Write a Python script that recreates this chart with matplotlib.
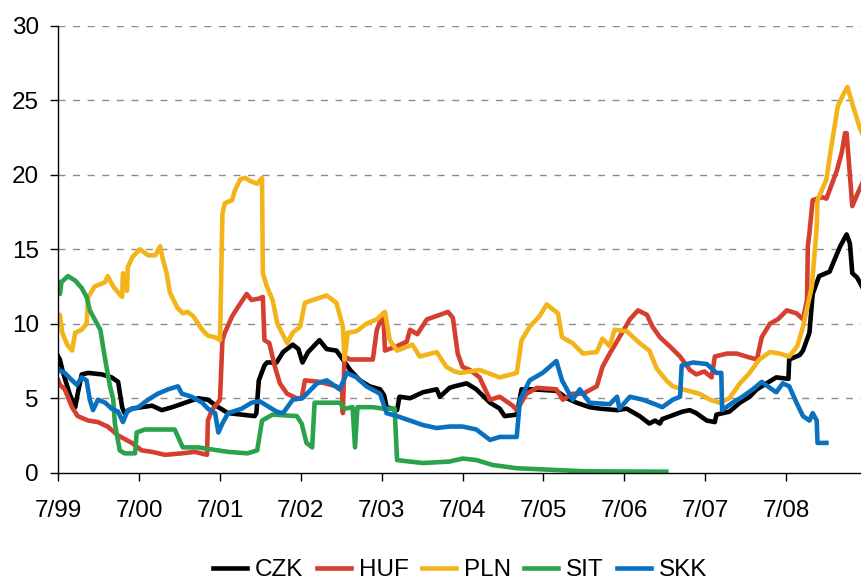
import matplotlib
matplotlib.use("Agg")
import matplotlib.pyplot as plt

plt.rcParams['font.family'] = ['Liberation Sans', 'DejaVu Sans']

# time in decimal years
czk_t = [1999.50, 1999.52, 1999.56, 1999.64, 1999.71, 1999.74, 1999.79, 1999.87, 2000.04, 2000.16,
         2000.24, 2000.29, 2000.32, 2000.41, 2000.53, 2000.66, 2000.78, 2000.91, 2001.07, 2001.23,
         2001.35, 2001.48, 2001.60, 2001.77, 2001.93, 2001.95, 2001.98, 2002.05, 2002.08, 2002.20,
         2002.28, 2002.40, 2002.47, 2002.52, 2002.59, 2002.73, 2002.82, 2002.94, 2003.02, 2003.11,
         2003.23, 2003.35, 2003.48, 2003.53, 2003.56, 2003.69, 2003.72, 2003.85, 2004.01, 2004.18,
         2004.22, 2004.34, 2004.40, 2004.55, 2004.67, 2004.84, 2004.96, 2005.02, 2005.17, 2005.23,
         2005.36, 2005.66, 2005.79, 2005.91, 2006.07, 2006.20, 2006.41, 2006.53, 2006.69, 2006.81,
         2006.88, 2006.94, 2006.97, 2007.22, 2007.31, 2007.39, 2007.52, 2007.62, 2007.64, 2007.80,
         2007.93, 2008.05, 2008.14, 2008.26, 2008.38, 2008.53, 2008.54, 2008.67, 2008.71, 2008.79,
         2008.83, 2008.91, 2009.04, 2009.10, 2009.17, 2009.25, 2009.29, 2009.32, 2009.38, 2009.44]
czk_v = [7.8, 7.6, 6.7, 5.3, 4.4, 5.3, 6.6, 6.7, 6.6, 6.4,
         6.1, 4.4, 4.0, 4.3, 4.4, 4.5, 4.2, 4.4, 4.7, 5.0,
         4.9, 4.4, 4.0, 3.9, 3.8, 4.0, 6.2, 7.2, 7.4, 7.4,
         8.1, 8.6, 8.3, 7.4, 8.1, 8.9, 8.3, 8.2, 7.6, 6.9,
         6.2, 5.8, 5.6, 5.2, 4.4, 4.2, 5.1, 5.0, 5.4, 5.6,
         5.1, 5.7, 5.8, 6.0, 5.6, 4.7, 4.3, 3.8, 3.9, 5.6,
         5.6, 5.5, 5.0, 4.7, 4.4, 4.3, 4.2, 4.3, 3.8, 3.3,
         3.5, 3.3, 3.6, 4.1, 4.2, 4.0, 3.5, 3.4, 3.9, 4.1,
         4.7, 5.1, 5.6, 6.0, 6.4, 6.3, 7.6, 7.9, 8.2, 9.4,
         12.0, 13.2, 13.5, 14.3, 15.2, 16.0, 15.4, 13.4, 13.1, 12.5]

huf_t = [1999.50, 1999.52, 1999.58, 1999.67, 1999.74, 1999.87, 1999.99, 2000.11, 2000.24, 2000.41,
         2000.53, 2000.66, 2000.82, 2001.03, 2001.19, 2001.34, 2001.35, 2001.40, 2001.50, 2001.53,
         2001.56, 2001.65, 2001.72, 2001.83, 2001.89, 2001.99, 2002.03, 2002.05, 2002.11, 2002.18,
         2002.24, 2002.33, 2002.45, 2002.51, 2002.55, 2002.73, 2002.94, 2003.01, 2003.02, 2003.04,
         2003.11, 2003.39, 2003.44, 2003.52, 2003.54, 2003.69, 2003.81, 2003.85, 2003.94, 2004.06,
         2004.22, 2004.32, 2004.38, 2004.44, 2004.50, 2004.59, 2004.71, 2004.84, 2004.96, 2005.12,
         2005.17, 2005.29, 2005.42, 2005.66, 2005.74, 2005.86, 2005.99, 2006.16, 2006.23, 2006.32,
         2006.44, 2006.57, 2006.67, 2006.78, 2006.85, 2006.94, 2007.06, 2007.19, 2007.31, 2007.39,
         2007.49, 2007.58, 2007.62, 2007.77, 2007.89, 2008.01, 2008.14, 2008.20, 2008.30, 2008.40,
         2008.51, 2008.63, 2008.71, 2008.76, 2008.77, 2008.79, 2008.83, 2008.95, 2009.00, 2009.13,
         2009.19, 2009.23, 2009.25, 2009.32, 2009.39, 2009.44]
huf_v = [6.2, 5.9, 5.6, 4.4, 3.8, 3.5, 3.4, 3.1, 2.5, 2.0,
         1.5, 1.4, 1.2, 1.3, 1.4, 1.2, 3.5, 4.2, 4.9, 8.9,
         9.4, 10.5, 11.1, 12.0, 11.6, 11.7, 11.8, 8.9, 8.7, 7.1,
         6.0, 5.3, 5.0, 5.0, 6.2, 6.1, 5.8, 5.5, 4.0, 7.8,
         7.6, 7.6, 9.6, 10.7, 8.2, 8.5, 8.8, 9.6, 9.3, 10.3,
         10.6, 10.8, 10.4, 8.0, 7.1, 6.9, 6.4, 4.9, 5.1, 4.5,
         4.2, 5.3, 5.7, 5.6, 4.9, 5.3, 5.3, 5.8, 7.1, 8.0,
         9.1, 10.3, 10.9, 10.6, 9.8, 9.1, 8.5, 7.8, 6.9, 6.6,
         6.8, 6.4, 7.8, 8.0, 8.0, 7.8, 7.6, 9.1, 10.0, 10.3,
         10.9, 10.7, 10.3, 11.6, 15.2, 16.1, 18.3, 18.5, 18.4, 20.3,
         21.5, 22.8, 22.8, 17.9, 18.8, 19.4]

pln_t = [1999.50, 1999.52, 1999.55, 1999.61, 1999.67, 1999.71, 1999.79, 1999.85, 1999.87, 1999.95,
         2000.08, 2000.11, 2000.18, 2000.24, 2000.29, 2000.30, 2000.35, 2000.36, 2000.42, 2000.51,
         2000.61, 2000.70, 2000.76, 2000.79, 2000.84, 2000.88, 2000.97, 2001.04, 2001.10, 2001.17,
         2001.28, 2001.35, 2001.44, 2001.50, 2001.53, 2001.56, 2001.65, 2001.68, 2001.75, 2001.81,
         2001.87, 2001.96, 2001.99, 2002.02, 2002.03, 2002.08, 2002.15, 2002.21, 2002.33, 2002.40,
         2002.49, 2002.55, 2002.65, 2002.82, 2002.94, 2003.02, 2003.04, 2003.08, 2003.19, 2003.31,
         2003.44, 2003.54, 2003.60, 2003.69, 2003.88, 2003.97, 2004.18, 2004.30, 2004.40, 2004.47,
         2004.71, 2004.96, 2005.17, 2005.23, 2005.33, 2005.45, 2005.54, 2005.68, 2005.73, 2005.86,
         2005.99, 2006.16, 2006.23, 2006.32, 2006.38, 2006.53, 2006.69, 2006.81, 2006.90, 2007.02,
         2007.10, 2007.22, 2007.43, 2007.56, 2007.68, 2007.80, 2007.93, 2008.05, 2008.17, 2008.30,
         2008.42, 2008.54, 2008.64, 2008.71, 2008.82, 2008.88, 2008.89, 2009.00, 2009.06, 2009.10,
         2009.14, 2009.20, 2009.26, 2009.33, 2009.41, 2009.44]
pln_v = [10.4, 10.6, 9.4, 8.6, 8.2, 9.4, 9.6, 10.0, 11.8, 12.5,
         12.8, 13.2, 12.5, 12.1, 11.8, 13.4, 12.2, 13.8, 14.5, 15.0,
         14.6, 14.6, 15.2, 14.4, 13.4, 12.1, 11.1, 10.7, 10.8, 10.5,
         9.6, 9.2, 9.1, 8.9, 17.4, 18.1, 18.3, 18.9, 19.7, 19.8,
         19.6, 19.4, 19.6, 19.8, 13.4, 12.5, 11.6, 10.0, 8.7, 9.4,
         9.8, 11.4, 11.6, 11.9, 11.4, 9.8, 7.6, 9.4, 9.5, 10.0,
         10.3, 10.8, 8.9, 8.2, 8.6, 7.8, 8.1, 7.1, 6.8, 6.7,
         6.9, 6.4, 6.7, 8.9, 9.8, 10.5, 11.3, 10.7, 9.1, 8.7,
         8.0, 8.1, 9.0, 8.5, 9.6, 9.5, 8.7, 8.2, 7.0, 6.2,
         5.8, 5.6, 5.3, 4.9, 4.7, 5.0, 6.0, 6.7, 7.6, 8.1,
         8.0, 7.8, 8.5, 9.8, 12.5, 16.5, 18.3, 19.7, 21.9, 23.2,
         24.6, 25.3, 25.9, 24.6, 23.2, 22.8]

sit_t = [1999.50, 1999.52, 1999.54, 1999.62, 1999.71, 1999.79, 1999.85, 1999.89, 1999.95, 2000.02,
         2000.08, 2000.14, 2000.18, 2000.20, 2000.26, 2000.32, 2000.45, 2000.47, 2000.57, 2000.94,
         2001.04, 2001.23, 2001.35, 2001.60, 2001.84, 2001.96, 2002.02, 2002.15, 2002.45, 2002.51,
         2002.57, 2002.64, 2002.67, 2002.98, 2003.04, 2003.14, 2003.17, 2003.20, 2003.39, 2003.52,
         2003.66, 2003.69, 2003.76, 2004.01, 2004.18, 2004.34, 2004.50, 2004.67, 2004.87, 2005.17,
         2005.58, 2005.99, 2006.44, 2007.02]
sit_v = [12.8, 12.0, 12.8, 13.2, 12.9, 12.4, 11.8, 10.9, 10.3, 9.6,
         7.6, 5.8, 4.9, 3.3, 1.5, 1.3, 1.3, 2.7, 2.9, 2.9,
         1.7, 1.7, 1.6, 1.4, 1.3, 1.5, 3.5, 3.9, 3.8, 3.3,
         2.0, 1.7, 4.7, 4.7, 4.3, 4.4, 1.7, 4.4, 4.4, 4.3,
         4.3, 0.85, 0.8, 0.65, 0.7, 0.75, 0.95, 0.85, 0.52, 0.3,
         0.2, 0.1, 0.08, 0.07]

skk_t = [1999.50, 1999.58, 1999.67, 1999.73, 1999.79, 1999.85, 1999.89, 1999.93, 1999.99, 2000.08,
         2000.16, 2000.24, 2000.30, 2000.36, 2000.49, 2000.61, 2000.73, 2000.86, 2000.98, 2001.03,
         2001.15, 2001.28, 2001.35, 2001.44, 2001.48, 2001.53, 2001.60, 2001.77, 2001.89, 2001.99,
         2002.20, 2002.28, 2002.40, 2002.52, 2002.70, 2002.82, 2002.98, 2003.07, 2003.19, 2003.31,
         2003.48, 2003.56, 2003.69, 2003.85, 2004.01, 2004.18, 2004.34, 2004.50, 2004.67, 2004.84,
         2004.96, 2005.17, 2005.21, 2005.33, 2005.49, 2005.66, 2005.73, 2005.86, 2005.95, 2006.07,
         2006.32, 2006.41, 2006.44, 2006.57, 2006.73, 2006.88, 2006.97, 2007.10, 2007.19, 2007.21,
         2007.35, 2007.52, 2007.64, 2007.70, 2007.71, 2007.84, 2007.96, 2008.09, 2008.20, 2008.30,
         2008.38, 2008.46, 2008.54, 2008.63, 2008.71, 2008.79, 2008.83, 2008.88, 2008.89, 2009.00]
skk_v = [6.9, 6.7, 6.2, 5.9, 6.4, 6.2, 4.9, 4.2, 4.9, 4.7,
         4.3, 4.1, 3.4, 4.2, 4.4, 4.9, 5.3, 5.6, 5.8, 5.3,
         5.1, 4.7, 4.3, 4.0, 2.7, 3.3, 4.0, 4.3, 4.7, 4.8,
         4.1, 4.0, 4.9, 5.0, 6.0, 6.2, 5.6, 6.7, 6.4, 5.8,
         5.3, 4.0, 3.8, 3.5, 3.2, 3.0, 3.1, 3.1, 2.9, 2.2,
         2.4, 2.4, 4.9, 6.2, 6.7, 7.5, 6.2, 4.9, 5.6, 4.7,
         4.6, 5.1, 4.3, 5.1, 4.9, 4.6, 4.4, 4.9, 5.1, 7.2,
         7.4, 7.3, 6.7, 6.7, 4.2, 4.7, 5.1, 5.6, 6.1, 5.7,
         5.4, 6.0, 5.8, 4.7, 3.8, 3.5, 4.0, 3.5, 2.0, 2.0]

tick_pos = [1999.5 + k for k in range(10)]
tick_labels = ['7/99', '7/00', '7/01', '7/02', '7/03', '7/04', '7/05', '7/06', '7/07', '7/08']

fig = plt.figure(figsize=(8.62, 5.81), dpi=100)
ax = fig.add_axes([0.0676, 0.1864, 0.9324, 0.769])

lw = 3.3
ax.plot(czk_t, czk_v, color='black', lw=lw, label='CZK')
ax.plot(huf_t, huf_v, color='#D43F2F', lw=lw, label='HUF')
ax.plot(pln_t, pln_v, color='#F2B418', lw=lw, label='PLN')
ax.plot(sit_t, sit_v, color='#2CA24C', lw=lw, label='SIT')
ax.plot(skk_t, skk_v, color='#0A70C0', lw=lw, label='SKK')

ax.set_xlim(1999.5, 2009.44)
ax.set_ylim(0, 30)
ax.set_yticks(range(0, 31, 5))
ax.set_xticks(tick_pos)
ax.set_xticklabels(tick_labels)

for y in range(5, 31, 5):
    ax.axhline(y, color='#8c8c8c', lw=1, ls=(0, (5, 5.5)), zorder=0)

for s in ['top', 'right']:
    ax.spines[s].set_visible(False)
ax.spines['left'].set_linewidth(1)
ax.spines['bottom'].set_linewidth(1)

ax.tick_params(axis='y', direction='out', length=6, width=1, pad=8, labelsize=17.5)
ax.tick_params(axis='x', direction='out', length=6, width=1, pad=14, labelsize=17.5)

ax.legend(loc='center', bbox_to_anchor=(0.5, -0.218), ncol=5, frameon=False,
          fontsize=17.5, handlelength=1.4, handletextpad=0.32, columnspacing=0.55)

fig.savefig('out.png', dpi=100)
